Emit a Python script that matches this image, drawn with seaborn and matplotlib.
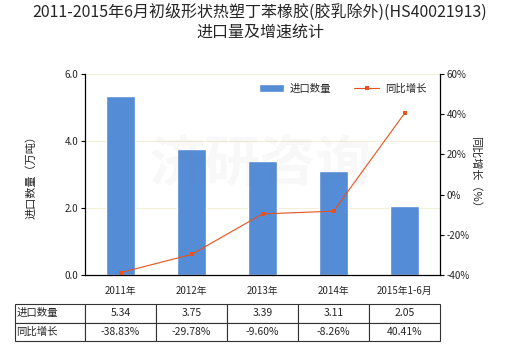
import numpy as np
import pandas as pd
import matplotlib
matplotlib.use("Agg")
import matplotlib.pyplot as plt
import seaborn as sns

categories = ["2011年", "2012年", "2013年", "2014年", "2015年1-6月"]
import_volume = [5.34, 3.75, 3.39, 3.11, 2.05]
yoy_growth = [-38.83, -29.78, -9.60, -8.26, 40.41]
volume_labels = ["5.34", "3.75", "3.39", "3.11", "2.05"]
growth_labels = ["-38.83%", "-29.78%", "-9.60%", "-8.26%", "40.41%"]

sns.set_theme(style="white")
plt.rcParams["font.family"] = ["Noto Sans CJK SC", "DejaVu Sans"]
plt.rcParams["axes.unicode_minus"] = False

bar_color = "#548cd6"
line_color = "#e8521c"

fig = plt.figure(figsize=(5.2, 3.5), dpi=100)
ax = fig.add_axes([85 / 520, 75 / 350, 355 / 520, 201 / 350])

df = pd.DataFrame({"cat": categories, "vol": import_volume, "pos": np.arange(len(categories)), "g": yoy_growth})
sns.barplot(data=df, x="cat", y="vol", color=bar_color, width=0.42, saturation=1, ax=ax, label="进口数量")
ax.set_ylim(0, 6)
ax.set_yticks([0, 2, 4, 6])
ax.set_yticklabels(["0.0", "2.0", "4.0", "6.0"])
ax.set_xlim(-0.5, 4.5)
ax.yaxis.grid(True, color="#f3efd8", linewidth=0.8)
ax.set_axisbelow(True)
ax.set_xlabel("")
ax.set_ylabel("进口数量（万吨）", fontsize=8, labelpad=20)

ax2 = ax.twinx()
sns.lineplot(data=df, x="pos", y="g", color=line_color, marker="s", markersize=3.5,
             markeredgewidth=0, linewidth=0.8, ax=ax2, label="同比增长")
ax2.set_ylim(-40, 60)
ax2.set_yticks([-40, -20, 0, 20, 40, 60])
ax2.set_yticklabels(["-40%", "-20%", "0%", "20%", "40%", "60%"])
ax2.set_ylabel("同比增长（%）", fontsize=8, rotation=270, labelpad=8)
ax2.set_xlabel("")
ax2.set_xlim(-0.5, 4.5)

for a in (ax, ax2):
    for s in a.spines.values():
        s.set_visible(False)
    a.tick_params(axis="both", labelsize=7, length=3, width=0.8, color="black", pad=2)
ax.spines["left"].set_visible(True)
ax.spines["bottom"].set_visible(True)
ax2.spines["right"].set_visible(True)
for sp in (ax.spines["left"], ax.spines["bottom"], ax2.spines["right"]):
    sp.set_color("black")
    sp.set_linewidth(0.9)
ax.tick_params(axis="x", length=0, pad=8)
ax.tick_params(axis="y", left=True)
ax2.tick_params(axis="y", right=True)

# legend combining both series
h1, l1 = ax.get_legend_handles_labels()
h2, l2 = ax2.get_legend_handles_labels()
if ax2.get_legend():
    ax2.get_legend().remove()
if ax.get_legend():
    ax.get_legend().remove()
ax2.legend(h1 + h2, l1 + l2, loc="upper right", bbox_to_anchor=(0.99, 1.0), ncol=2, frameon=False,
           fontsize=7.5, handlelength=2.4, columnspacing=2.2, handletextpad=0.6)

# watermark
fig.text(0.5, 0.53, "济研咨询", fontsize=40, color="#888888", alpha=0.06, ha="center", va="center",
         fontweight="bold")

fig.suptitle("2011-2015年6月初级形状热塑丁苯橡胶(胶乳除外)(HS40021913)\n进口量及增速统计",
             fontsize=11.5, y=0.99, linespacing=1.2)

# data table under the chart
cell_text = [["进口数量"] + volume_labels, ["同比增长"] + growth_labels]
tbl = ax.table(cellText=cell_text, cellLoc="center", colWidths=[70] + [71] * 5,
               bbox=[-70 / 355, -66 / 201, 425 / 355, 37 / 201])
tbl.auto_set_font_size(False)
tbl.set_fontsize(7.5)
for (r, c), cell in tbl.get_celld().items():
    cell.set_edgecolor("#333333")
    cell.set_linewidth(0.8)
    if c == 0:
        cell.set_text_props(ha="left")
        cell._loc = "left"
        cell.PAD = 0.02

fig.savefig("out.png", dpi=100)
